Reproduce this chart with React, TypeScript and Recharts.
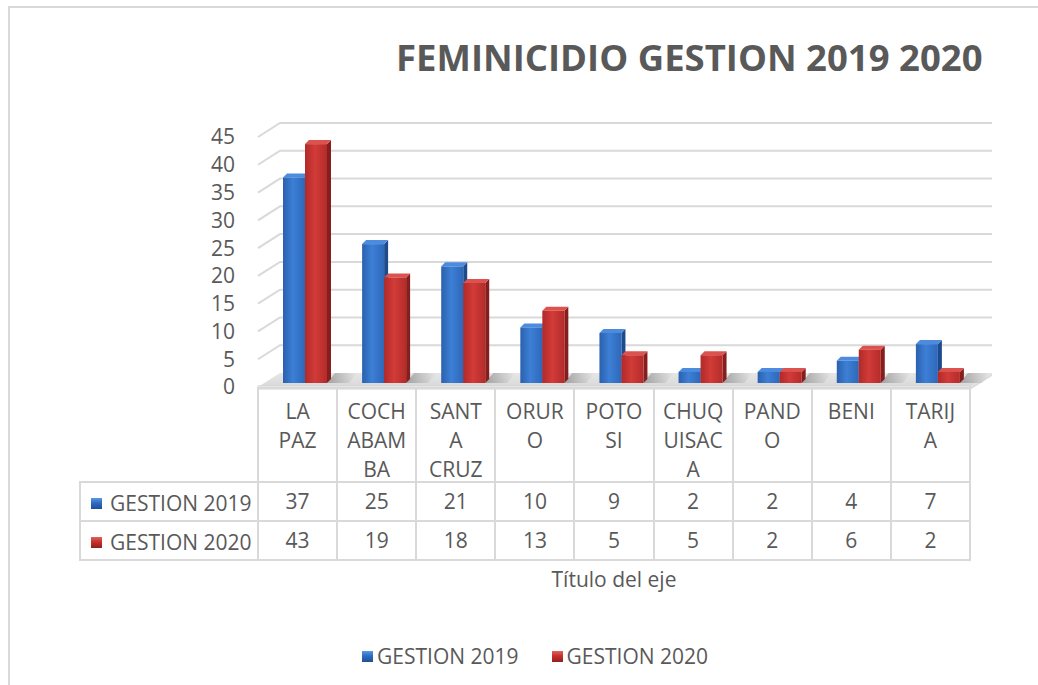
import React from "react";
import { BarChart, Bar, XAxis, YAxis, CartesianGrid } from "recharts";

const categories = ["LA PAZ", "COCHABAMBA", "SANTA CRUZ", "ORURO", "POTOSI", "CHUQUISACA", "PANDO", "BENI", "TARIJA"];
const headerLines = [
  ["LA", "PAZ"],
  ["COCH", "ABAM", "BA"],
  ["SANT", "A", "CRUZ"],
  ["ORUR", "O"],
  ["POTO", "SI"],
  ["CHUQ", "UISAC", "A"],
  ["PAND", "O"],
  ["BENI"],
  ["TARIJ", "A"],
];
const gestion2019 = [37, 25, 21, 10, 9, 2, 2, 4, 7];
const gestion2020 = [43, 19, 18, 13, 5, 5, 2, 6, 2];
const yTicks = [0, 5, 10, 15, 20, 25, 30, 35, 40, 45];
const seriesNames = ["GESTION 2019", "GESTION 2020"];

const data = categories.map((name, i) => ({
  name,
  g2019: gestion2019[i],
  g2020: gestion2020[i],
}));

const TEXT = "#595959";
const LINE = "#d9d9d9";
const FONT = "'Open Sans', sans-serif";

// plot geometry (front plane)
const PLOT_LEFT = 258;
const PLOT_RIGHT = 970;
const PLOT_TOP = 137;
const PLOT_BOTTOM = 387;
const DEPTH_X = 22;
const DEPTH_Y = -14;
const COL_W = (PLOT_RIGHT - PLOT_LEFT) / categories.length;

const BLUE = { front: "url(#blueFront)", side: "#1e4b8c", top: "#4d8bdf" };
const RED = { front: "url(#redFront)", side: "#861e1e", top: "#dc524e" };

function Bar3D(props: any) {
  const { x, y, width, height, c, shadow } = props;
  if (!height || height <= 0) return null;
  const X = x + 7;
  const Y = y - 4;
  const w = width;
  const h = height;
  const d = 4;
  return (
    <g>
      {shadow && (
        <polygon
          points={`${X + w},${Y + h} ${X + w + 22},${Y + h} ${X + w + 30},${Y + h - 10} ${X + w + 8},${Y + h - 10}`}
          fill="url(#floorShadow)"
        />
      )}
      <polygon
        points={`${X + w},${Y} ${X + w + d},${Y - d} ${X + w + d},${Y + h - d} ${X + w},${Y + h}`}
        fill={c.side}
      />
      <polygon points={`${X},${Y} ${X + d},${Y - d} ${X + w + d},${Y - d} ${X + w},${Y}`} fill={c.top} />
      <rect x={X} y={Y} width={w} height={h} fill={c.front} />
    </g>
  );
}

function GridLine(props: any) {
  const { x1, x2, y1, index } = props;
  if (Math.abs(y1 - PLOT_BOTTOM) < 1) {
    return (
      <g key={`floor-${index}`}>
        <polygon
          points={`${x1},${y1} ${x2},${y1} ${x2 + DEPTH_X},${y1 + DEPTH_Y} ${x1 + DEPTH_X},${y1 + DEPTH_Y}`}
          fill="url(#floorFill)"
        />
        <polygon
          points={`${x2},${y1} ${x2 + DEPTH_X},${y1 + DEPTH_Y} ${x2 + DEPTH_X},${y1 + DEPTH_Y + 3} ${x2},${y1 + 3}`}
          fill="#dedede"
        />
        <rect x={x1} y={y1 - 1} width={x2 - x1} height={3} fill="#f4f4f4" stroke="#d3d3d3" strokeWidth={1} />
      </g>
    );
  }
  return (
    <polyline
      key={`grid-${index}`}
      points={`${x1},${y1} ${x1 + DEPTH_X},${y1 + DEPTH_Y} ${x2 + DEPTH_X},${y1 + DEPTH_Y}`}
      fill="none"
      stroke={LINE}
      strokeWidth={2}
    />
  );
}

function Marker({ color }: { color: "blue" | "red" }) {
  const bg =
    color === "blue"
      ? "linear-gradient(180deg, #5b97e6 0%, #2f6bbf 45%, #1f4f94 100%)"
      : "linear-gradient(180deg, #e0625d 0%, #c7302d 45%, #8f2020 100%)";
  return (
    <span
      style={{
        display: "inline-block",
        width: 11,
        height: 11,
        background: bg,
        verticalAlign: "middle",
      }}
    />
  );
}

const cell = (left: number, top: number, width: number, height: number): React.CSSProperties => ({
  position: "absolute",
  left: left - 1,
  top: top - 1,
  width: width + 2,
  height: height + 2,
  boxSizing: "border-box",
  border: `2px solid ${LINE}`,
  color: TEXT,
  fontSize: 21,
  textAlign: "center",
});

const HEAD_TOP = 388;
const HEAD_BOTTOM = 482;
const ROW_H = 39;
const LABEL_LEFT = 80;

export default function App() {
  const rows = [gestion2019, gestion2020];
  return (
    <div
      style={{
        position: "absolute",
        left: 0,
        top: 0,
        width: 1038,
        height: 685,
        overflow: "hidden",
        background: "#fff",
        fontFamily: FONT,
      }}
    >
      <div
        style={{
          position: "absolute",
          left: 8,
          top: 6,
          width: 1100,
          height: 800,
          borderLeft: `2px solid ${LINE}`,
          borderTop: `2px solid ${LINE}`,
        }}
      />
      <div
        style={{
          position: "absolute",
          left: 396,
          top: 32,
          fontSize: 36.5,
          fontWeight: 700,
          color: TEXT,
          whiteSpace: "nowrap",
          lineHeight: "50px",
        }}
      >
        FEMINICIDIO GESTION 2019 2020
      </div>

      <div style={{ position: "absolute", left: 0, top: 0 }}>
        <BarChart
          width={1038}
          height={685}
          data={data}
          margin={{ top: PLOT_TOP, right: 1038 - PLOT_RIGHT, bottom: 685 - PLOT_BOTTOM, left: PLOT_LEFT - 40 }}
          barSize={22}
          barGap={0}
        >
          <defs>
            <linearGradient id="blueFront" x1="0" y1="0" x2="1" y2="0">
              <stop offset="0%" stopColor="#2b60ae" />
              <stop offset="45%" stopColor="#3c80d6" />
              <stop offset="100%" stopColor="#2e67b9" />
            </linearGradient>
            <linearGradient id="redFront" x1="0" y1="0" x2="1" y2="0">
              <stop offset="0%" stopColor="#b02a29" />
              <stop offset="45%" stopColor="#d23b38" />
              <stop offset="100%" stopColor="#b32c2a" />
            </linearGradient>
            <linearGradient id="floorFill" x1="0" y1="0" x2="0" y2="1">
              <stop offset="0%" stopColor="#e6e6e6" />
              <stop offset="100%" stopColor="#d9d9d9" />
            </linearGradient>
            <linearGradient id="floorShadow" x1="0" y1="0" x2="1" y2="0">
              <stop offset="0%" stopColor="#7a7a7a" stopOpacity={0.6} />
              <stop offset="100%" stopColor="#7a7a7a" stopOpacity={0} />
            </linearGradient>
          </defs>
          <CartesianGrid vertical={false} horizontal={GridLine} />
          <XAxis dataKey="name" hide />
          <YAxis
            width={40}
            domain={[0, 45]}
            ticks={yTicks}
            interval={0}
            axisLine={false}
            tickLine={false}
            tickSize={0}
            tickMargin={23}
            tick={{ fill: TEXT, fontSize: 21, fontFamily: FONT }}
          />
          <Bar
            dataKey="g2019"
            name={seriesNames[0]}
            isAnimationActive={false}
            shape={(p: any) => <Bar3D {...p} c={BLUE} />}
          />
          <Bar
            dataKey="g2020"
            name={seriesNames[1]}
            isAnimationActive={false}
            shape={(p: any) => <Bar3D {...p} c={RED} shadow />}
          />
        </BarChart>
      </div>

      {/* data table */}
      <div
        style={{
          ...cell(LABEL_LEFT, HEAD_TOP, PLOT_LEFT - LABEL_LEFT, HEAD_BOTTOM - HEAD_TOP),
          borderTop: "none",
          borderLeft: "none",
          borderRight: "none",
        }}
      />
      {headerLines.map((lines, i) => (
        <div
          key={categories[i]}
          style={{
            ...cell(PLOT_LEFT + i * COL_W, HEAD_TOP, COL_W, HEAD_BOTTOM - HEAD_TOP),
            paddingTop: 8,
            lineHeight: "29px",
          }}
        >
          {lines.map((l, j) => (
            <div key={j}>{l}</div>
          ))}
        </div>
      ))}
      {rows.map((vals, r) => {
        const top = HEAD_BOTTOM + r * ROW_H;
        return (
          <React.Fragment key={seriesNames[r]}>
            <div
              style={{
                ...cell(LABEL_LEFT, top, PLOT_LEFT - LABEL_LEFT, ROW_H),
                textAlign: "left",
                paddingLeft: 10,
                lineHeight: `${ROW_H - 2}px`,
                whiteSpace: "nowrap",
              }}
            >
              <Marker color={r === 0 ? "blue" : "red"} />
              <span style={{ marginLeft: 8, verticalAlign: "middle" }}>{seriesNames[r]}</span>
            </div>
            {vals.map((v, i) => (
              <div
                key={i}
                style={{
                  ...cell(PLOT_LEFT + i * COL_W, top, COL_W, ROW_H),
                  lineHeight: `${ROW_H - 2}px`,
                }}
              >
                {v}
              </div>
            ))}
          </React.Fragment>
        );
      })}

      <div
        style={{
          position: "absolute",
          left: PLOT_LEFT,
          width: PLOT_RIGHT - PLOT_LEFT,
          top: 565,
          textAlign: "center",
          fontSize: 21,
          color: TEXT,
          lineHeight: "29px",
        }}
      >
        Título del eje
      </div>

      <div
        style={{
          position: "absolute",
          left: 362,
          top: 640,
          fontSize: 21,
          color: TEXT,
          lineHeight: "28px",
          whiteSpace: "nowrap",
        }}
      >
        <Marker color="blue" />
        <span style={{ marginLeft: 4, verticalAlign: "middle" }}>{seriesNames[0]}</span>
        <span style={{ display: "inline-block", width: 33 }} />
        <Marker color="red" />
        <span style={{ marginLeft: 4, verticalAlign: "middle" }}>{seriesNames[1]}</span>
      </div>
    </div>
  );
}
